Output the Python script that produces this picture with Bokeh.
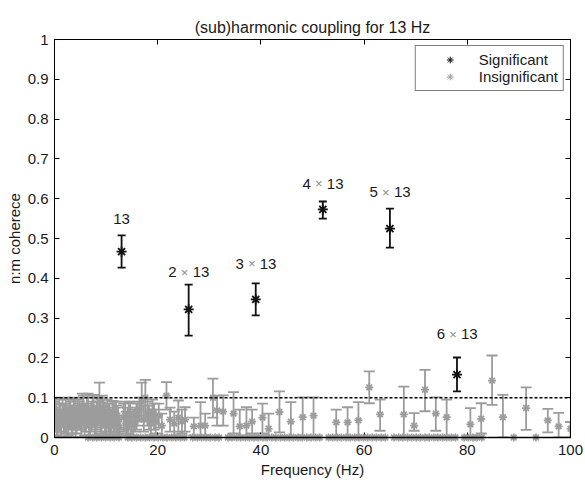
from bokeh.plotting import figure
from bokeh.models import (Whisker, TeeHead, ColumnDataSource, Span, Legend, LegendItem,
                          LinearAxis, FixedTicker, Range1d)
from bokeh.core.properties import value
from bokeh.embed import file_html
from bokeh.resources import INLINE

# ---------------- data ----------------
title_text = "(sub)harmonic coupling for 13 Hz"
x_label = "Frequency (Hz)"
y_label = "n:m coherece"
x_ticks = [0, 20, 40, 60, 80, 100]
y_ticks = [0, 0.1, 0.2, 0.3, 0.4, 0.5, 0.6, 0.7, 0.8, 0.9, 1]
y_tick_labels = ["0", "0.1", "0.2", "0.3", "0.4", "0.5", "0.6", "0.7", "0.8", "0.9", "1"]
threshold = 0.1

sig_freq = [13, 26, 39, 52, 65, 78]
sig_val = [0.467, 0.322, 0.347, 0.573, 0.525, 0.158]
sig_lo = [0.427, 0.256, 0.307, 0.550, 0.477, 0.116]
sig_hi = [0.508, 0.384, 0.387, 0.593, 0.575, 0.201]
sig_labels = ["13", "2 × 13", "3 × 13", "4 × 13", "5 × 13", "6 × 13"]
sig_label_y = [0.55, 0.415, 0.437, 0.638, 0.616, 0.259]

ins_freq = [0.0, 0.4, 0.9, 1.3, 1.8, 2.2, 2.6, 3.1, 3.5, 3.9, 4.3, 4.8, 5.2, 5.6, 6.1,
            6.5, 6.9, 7.4, 7.8, 8.2, 8.7, 9.1, 9.5, 10.0, 10.4, 10.8, 11.3, 11.7, 12.1,
            12.6, 13.4, 13.9, 14.4, 14.9, 15.6, 16.1, 16.9, 17.6, 18.3, 19.0, 19.6, 20.2,
            20.8, 21.7, 22.4, 23.2, 24.0, 24.7, 25.3, 27.0, 28.3, 29.2, 30.7, 31.5, 32.7,
            34.7, 35.9, 37.2, 38.3, 40.3, 41.5, 43.6, 45.8, 48.1, 50.2, 54.6, 56.8, 58.9,
            61.0, 63.1, 67.7, 69.7, 71.8, 73.9, 76.0, 80.6, 82.7, 84.8, 86.9, 91.4, 95.6,
            97.7, 100.0]
ins_val = [0.055, 0.045, 0.060, 0.035, 0.050, 0.065, 0.040, 0.055, 0.030, 0.060, 0.045,
           0.055, 0.035, 0.070, 0.050, 0.075, 0.040, 0.065, 0.030, 0.055, 0.095, 0.045,
           0.060, 0.035, 0.050, 0.040, 0.060, 0.030, 0.045, 0.025, 0.050, 0.035, 0.055,
           0.030, 0.045, 0.060, 0.090, 0.100, 0.050, 0.065, 0.040, 0.055, 0.030, 0.105,
           0.045, 0.035, 0.050, 0.040, 0.045, 0.028, 0.030, 0.030, 0.100, 0.068, 0.065,
           0.060, 0.028, 0.030, 0.040, 0.050, 0.022, 0.064, 0.040, 0.051, 0.055, 0.038,
           0.038, 0.043, 0.126, 0.058, 0.058, 0.030, 0.120, 0.060, 0.051, 0.033, 0.047,
           0.143, 0.051, 0.074, 0.043, 0.028, 0.022]
ins_lo = [0.020, 0.005, 0.025, 0.000, 0.015, 0.030, 0.005, 0.020, 0.000, 0.025, 0.010,
          0.020, 0.000, 0.035, 0.015, 0.040, 0.005, 0.030, 0.000, 0.020, 0.055, 0.010,
          0.025, 0.000, 0.015, 0.005, 0.030, 0.000, 0.010, 0.000, 0.015, 0.005, 0.020,
          0.000, 0.015, 0.030, 0.045, 0.055, 0.020, 0.035, 0.010, 0.025, 0.000, 0.070,
          0.015, 0.005, 0.015, 0.010, 0.015, 0.005, 0.000, 0.005, 0.050, 0.030, 0.030,
          0.010, 0.000, 0.000, 0.010, 0.010, 0.000, 0.013, 0.000, 0.000, 0.000, 0.000,
          0.000, 0.000, 0.086, 0.017, 0.000, 0.017, 0.066, 0.017, 0.000, 0.000, 0.010,
          0.082, 0.000, 0.019, 0.013, 0.000, 0.000]
ins_hi = [0.090, 0.085, 0.095, 0.070, 0.085, 0.100, 0.075, 0.090, 0.065, 0.095, 0.080,
          0.090, 0.070, 0.105, 0.085, 0.110, 0.075, 0.105, 0.065, 0.090, 0.138, 0.080,
          0.095, 0.070, 0.085, 0.075, 0.092, 0.060, 0.080, 0.055, 0.085, 0.065, 0.088,
          0.060, 0.075, 0.090, 0.138, 0.145, 0.080, 0.095, 0.070, 0.085, 0.060, 0.139,
          0.075, 0.065, 0.093, 0.070, 0.076, 0.050, 0.089, 0.060, 0.148, 0.105, 0.106,
          0.114, 0.070, 0.076, 0.070, 0.085, 0.060, 0.116, 0.089, 0.101, 0.101, 0.070,
          0.076, 0.089, 0.166, 0.095, 0.128, 0.061, 0.170, 0.101, 0.095, 0.074, 0.086,
          0.206, 0.107, 0.126, 0.072, 0.062, 0.039]

# extra insignificant points in the dense low band
low_freq = [0.2, 0.65, 1.1, 1.55, 2.0, 2.45, 2.85, 3.3, 3.7, 4.1, 4.55, 5.0, 5.4, 5.85,
            6.3, 6.7, 7.15, 7.6, 8.0, 8.45, 8.9, 9.3, 9.75, 10.2, 10.6, 11.05, 11.5,
            11.9, 12.35, 13.7, 14.15, 14.65, 15.3, 15.9, 16.5, 17.3, 18.0, 18.7, 19.3]
low_val = [0.070, 0.030, 0.050, 0.065, 0.045, 0.030, 0.060, 0.045, 0.070, 0.035, 0.060,
           0.050, 0.075, 0.040, 0.060, 0.030, 0.050, 0.070, 0.040, 0.065, 0.050, 0.070,
           0.040, 0.060, 0.045, 0.030, 0.050, 0.060, 0.040, 0.055, 0.040, 0.060, 0.035,
           0.050, 0.070, 0.045, 0.060, 0.035, 0.050]
low_lo = [0.035, 0.000, 0.015, 0.030, 0.010, 0.000, 0.025, 0.010, 0.040, 0.000, 0.025,
          0.020, 0.040, 0.005, 0.025, 0.000, 0.015, 0.035, 0.005, 0.030, 0.015, 0.035,
          0.005, 0.025, 0.010, 0.000, 0.015, 0.030, 0.005, 0.020, 0.010, 0.030, 0.005,
          0.020, 0.040, 0.015, 0.030, 0.005, 0.020]
low_hi = [0.100, 0.065, 0.085, 0.098, 0.080, 0.065, 0.095, 0.080, 0.100, 0.070, 0.095,
          0.085, 0.110, 0.075, 0.100, 0.070, 0.090, 0.107, 0.080, 0.100, 0.088, 0.105,
          0.080, 0.095, 0.085, 0.070, 0.090, 0.090, 0.075, 0.090, 0.075, 0.090, 0.070,
          0.085, 0.100, 0.080, 0.090, 0.070, 0.085]

zero_freq = [6.5, 7.4, 8.2, 9.1, 9.9, 10.8, 11.6, 12.5, 14.2, 15.0, 15.9, 16.7, 17.6,
             18.4, 19.3, 20.1, 21.0, 21.8, 22.7, 23.5, 24.4, 25.2, 26.8, 27.7, 28.5, 29.4,
             30.2, 31.1, 31.9, 33.6, 34.4, 35.3, 36.1, 37.0, 37.8, 38.7, 39.5, 40.4, 41.2,
             42.1, 42.9, 43.8, 44.6, 45.5, 46.3, 47.2, 48.0, 48.9, 49.7, 50.6, 51.4, 53.1,
             53.9, 54.8, 55.6, 56.5, 57.3, 58.2, 59.0, 59.9, 60.7, 61.6, 62.4, 63.3, 64.1,
             65.8, 66.7, 67.5, 68.4, 69.2, 70.1, 70.9, 71.8, 72.6, 73.5, 74.3, 75.2, 76.0,
             76.9, 77.7, 79.4, 80.2, 81.1, 81.9, 82.8, 89.0, 93.3]
zero_val = [0.0] * len(zero_freq)

# ---------------- style ----------------
FONT = "Liberation Sans"
GRAY = "#9c9c9c"
BLACK = "#111111"
TXT = "#1a1a1a"
NAN = float("nan")

p = figure(width=585, height=483, output_backend="svg", toolbar_location=None,
           x_range=Range1d(0, 100), y_range=Range1d(0, 1),
           min_border_left=54, min_border_right=15, min_border_top=39, min_border_bottom=46)
p.title.text = title_text
p.title.align = "center"
p.title.text_font = FONT
p.title.text_font_size = "16px"
p.title.text_font_style = "normal"
p.title.text_color = TXT
p.title.standoff = 8
p.xgrid.visible = False
p.ygrid.visible = False
p.outline_line_color = "black"
p.outline_line_width = 1
p.background_fill_color = "white"
p.border_fill_color = "white"


def style_axis(ax, show, ticks):
    ax.ticker = FixedTicker(ticks=ticks)
    ax.axis_line_color = "black"
    ax.axis_line_width = 1
    ax.major_tick_in = 5
    ax.major_tick_out = 0
    ax.major_tick_line_color = "black"
    ax.minor_tick_line_color = None
    ax.major_label_text_font = FONT
    ax.major_label_text_color = TXT
    ax.axis_label_text_font = FONT
    ax.axis_label_text_font_style = "normal"
    ax.axis_label_text_color = TXT
    ax.major_label_text_font_size = "15px"
    ax.axis_label_text_font_size = "15px"
    if not show:
        ax.major_label_overrides = {t: "" for t in ticks}
        ax.major_label_text_font_size = "1px"
        ax.major_label_standoff = 0


xa = p.xaxis[0]
style_axis(xa, True, x_ticks)
xa.axis_label = x_label
xa.major_label_standoff = 7
xa.axis_label_standoff = 3

ya = p.yaxis[0]
style_axis(ya, True, y_ticks)
ya.major_label_overrides = {t: s for t, s in zip(y_ticks, y_tick_labels)}
ya.axis_label = y_label
ya.major_label_standoff = 6
ya.axis_label_standoff = 2

top_ax = LinearAxis()
style_axis(top_ax, False, x_ticks)
p.add_layout(top_ax, "above")
right_ax = LinearAxis()
style_axis(right_ax, False, y_ticks)
p.add_layout(right_ax, "right")

# insignificant error bars
ins_src = ColumnDataSource(dict(f=ins_freq + low_freq, v=ins_val + low_val,
                                lo=ins_lo + low_lo, hi=ins_hi + low_hi))
p.add_layout(Whisker(source=ins_src, base="f", lower="lo", upper="hi", dimension="height",
                     line_color=GRAY, line_width=1.8,
                     upper_head=TeeHead(size=11, line_color=GRAY, line_width=1.8),
                     lower_head=TeeHead(size=11, line_color=GRAY, line_width=1.8)))
p.scatter("f", "v", source=ins_src, marker="asterisk", size=8,
          line_color=GRAY, line_width=1.7)

zero_src = ColumnDataSource(dict(f=zero_freq, v=zero_val))
p.scatter("f", "v", source=zero_src, marker="asterisk", size=8,
          line_color=GRAY, line_width=1.7, level="overlay")

# threshold
p.add_layout(Span(location=threshold, dimension="width", line_color="black",
                  line_width=1.5, line_dash="3 2"))

# significant
sig_src = ColumnDataSource(dict(f=sig_freq, v=sig_val, lo=sig_lo, hi=sig_hi))
p.add_layout(Whisker(source=sig_src, base="f", lower="lo", upper="hi", dimension="height",
                     line_color=BLACK, line_width=1.8,
                     upper_head=TeeHead(size=8, line_color=BLACK, line_width=1.8),
                     lower_head=TeeHead(size=8, line_color=BLACK, line_width=1.8)))
p.scatter("f", "v", source=sig_src, marker="asterisk", size=10,
          line_color=BLACK, line_width=1.8)

# legend-only glyphs (thin asterisks; the single point is NaN so nothing is plotted)
leg_sig = p.scatter(x=[NAN], y=[NAN], marker="asterisk", size=8,
                    line_color=BLACK, line_width=1.0)
leg_ins = p.scatter(x=[NAN], y=[NAN], marker="asterisk", size=8,
                    line_color=GRAY, line_width=1.0)

# harmonic labels
parts = [lab.split(" × ") for lab in sig_labels]
plain = dict(f=[sig_freq[i] for i, pt in enumerate(parts) if len(pt) == 1],
             y=[sig_label_y[i] for i, pt in enumerate(parts) if len(pt) == 1],
             t=[pt[0] for pt in parts if len(pt) == 1])
mult = dict(f=[sig_freq[i] for i, pt in enumerate(parts) if len(pt) == 2],
            y=[sig_label_y[i] for i, pt in enumerate(parts) if len(pt) == 2],
            a=[pt[0] for pt in parts if len(pt) == 2],
            b=[pt[1] for pt in parts if len(pt) == 2],
            x=["×" for pt in parts if len(pt) == 2])
lab_kw = dict(text_font=value(FONT), text_font_size="15px", text_baseline="middle",
              text_color=TXT)
p.text("f", "y", text="t", source=ColumnDataSource(plain), text_align="center", **lab_kw)
mult_src = ColumnDataSource(mult)
p.text("f", "y", text="a", source=mult_src, text_align="right", x_offset=-12, **lab_kw)
p.text("f", "y", text="b", source=mult_src, text_align="left", x_offset=4, **lab_kw)
p.text("f", "y", text="x", source=mult_src, text_align="center", x_offset=-4,
       text_font=value(FONT), text_font_size="13px", text_baseline="middle",
       text_color="#8a8a8a")

# baseline redrawn over the zero markers
p.hspan(y=[0], line_color="black", line_width=1.5, level="overlay")

legend = Legend(items=[LegendItem(label="Significant", renderers=[leg_sig], index=0),
                       LegendItem(label="Insignificant", renderers=[leg_ins], index=0)],
                location="top_right")
legend.margin = 6
legend.padding = 5
legend.spacing = 0
legend.glyph_width = 58
legend.glyph_height = 17
legend.label_height = 17
legend.label_standoff = 0
legend.label_text_font = FONT
legend.label_text_font_size = "15px"
legend.label_text_color = TXT
legend.border_line_color = "black"
legend.border_line_width = 1
legend.background_fill_alpha = 1
p.add_layout(legend)

open("out.html", "w").write(file_html(p, INLINE))
